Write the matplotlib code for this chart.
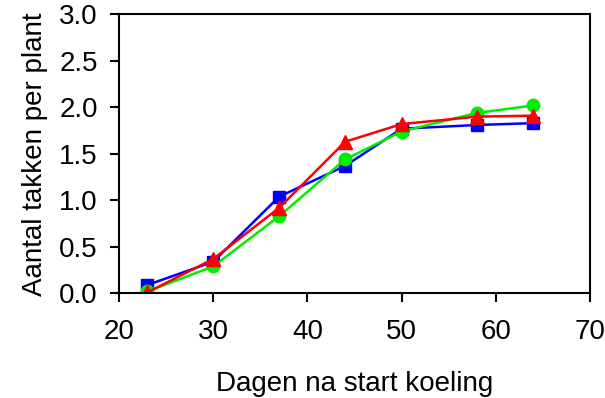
import matplotlib
matplotlib.use("Agg")
import matplotlib.pyplot as plt

plt.rcParams['font.family'] = ['Liberation Sans', 'DejaVu Sans']

days = [23, 30, 37, 44, 50, 58, 64]
blue = [0.09, 0.34, 1.04, 1.37, 1.77, 1.81, 1.83]
green = [0.02, 0.29, 0.83, 1.44, 1.74, 1.94, 2.02]
red = [0.01, 0.37, 0.92, 1.63, 1.82, 1.90, 1.91]

xticks = [20, 30, 40, 50, 60, 70]
yticks = [0.0, 0.5, 1.0, 1.5, 2.0, 2.5, 3.0]

fig = plt.figure(figsize=(6.05, 3.98), dpi=100)
ax = fig.add_axes([0.197, 0.263, 0.778, 0.701])

ax.plot(days, blue, color='#0000ff', marker='s', markersize=8, linewidth=1.8)
ax.plot(days, green, color='#00ee00', marker='o', markersize=9, linewidth=1.8)
ax.plot(days, red, color='#ff0000', marker='^', markersize=10, linewidth=1.8)

ax.set_xlim(20, 70)
ax.set_ylim(0, 3.0)
ax.set_xticks(xticks)
ax.set_yticks(yticks)
ax.set_yticklabels([f"{v:.1f}" for v in yticks])
ax.tick_params(direction='out', length=6.5, width=1.5, labelsize=20)
ax.tick_params(axis='x', pad=12)
ax.tick_params(axis='y', pad=9)
for s in ax.spines.values():
    s.set_linewidth(1.5)
ax.set_xlabel("Dagen na start koeling", fontsize=20, labelpad=19)
ax.set_ylabel("Aantal takken per plant", fontsize=20, labelpad=8)

fig.savefig("out.png", dpi=100)
